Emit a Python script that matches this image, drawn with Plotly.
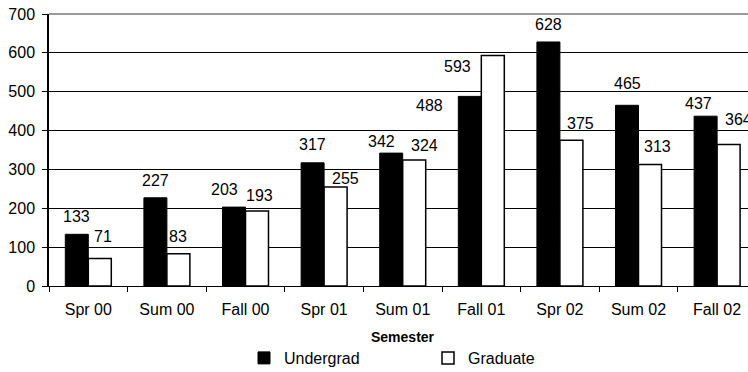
import plotly.graph_objects as go

# Enrollment by semester
semesters = ["Spr 00", "Sum 00", "Fall 00", "Spr 01", "Sum 01",
             "Fall 01", "Spr 02", "Sum 02", "Fall 02"]
undergrad = [133, 227, 203, 317, 342, 488, 628, 465, 437]
graduate = [71, 83, 193, 255, 324, 593, 375, 313, 364]

# Value-label nudges in pixels (horizontal shift, height above bar top)
under_dx = [0, 0, -10, 0, -10, -40, 0, 0, -7]
under_dy = [18, 17, 18, 18, 12, -9, 17, 22, 13]
grad_dx = [3, 0, 2, 10, 10, -35, 9, 7, 10]
grad_dy = [22, 17, 16, 8, 15, -11, 17, 18, 25]

FONT = "Liberation Sans"
SIZE = 16
BARGAP = 0.415
half = (1 - BARGAP) / 4  # offset of each bar centre from the category centre

fig = go.Figure()
fig.add_trace(go.Bar(
    name="Undergrad", x=semesters, y=undergrad,
    marker=dict(color="black", line=dict(color="black", width=1)),
))
fig.add_trace(go.Bar(
    name="Graduate", x=semesters, y=graduate,
    marker=dict(color="white", line=dict(color="black", width=1.5)),
))

annotations = []
for i, (u, g) in enumerate(zip(undergrad, graduate)):
    annotations.append(dict(
        x=i - half, y=u, xref="x", yref="y", text=str(u), showarrow=False,
        xanchor="center", yanchor="middle",
        xshift=under_dx[i], yshift=under_dy[i],
        font=dict(family=FONT, size=SIZE, color="black"),
    ))
    annotations.append(dict(
        x=i + half, y=g, xref="x", yref="y", text=str(g), showarrow=False,
        xanchor="center", yanchor="middle",
        xshift=grad_dx[i], yshift=grad_dy[i],
        font=dict(family=FONT, size=SIZE, color="black"),
    ))

# Axis title
annotations.append(dict(
    x=4, y=-0.1875, xref="x", yref="paper", text="<b>Semester</b>",
    showarrow=False, xanchor="center", yanchor="middle",
    font=dict(family=FONT, size=14, color="black"),
))

fig.update_layout(
    width=748, height=372,
    margin=dict(l=49, r=0, t=14, b=86),
    paper_bgcolor="white", plot_bgcolor="white",
    barmode="group", bargap=BARGAP, bargroupgap=0,
    font=dict(family=FONT, size=SIZE, color="black"),
    showlegend=True,
    legend=dict(
        orientation="h", xref="container", yref="container",
        x=244 / 748, xanchor="left", y=1 - 358 / 372, yanchor="middle",
        entrywidth=139, entrywidthmode="pixels",
        font=dict(family=FONT, size=SIZE, color="black"),
        bgcolor="rgba(0,0,0,0)",
    ),
    annotations=annotations,
    shapes=[dict(type="line", xref="paper", yref="paper",
                 x0=0, x1=1, y0=1, y1=1,
                 line=dict(color="#9a9a9a", width=2), layer="above")],
)

fig.update_xaxes(
    type="category", range=[-0.5, 8.393],
    showline=True, linecolor="black", linewidth=1,
    ticks="outside", tickson="boundaries", ticklen=5, tickcolor="black",
    ticklabelstandoff=9, showgrid=False,
    tickfont=dict(family=FONT, size=SIZE, color="black"),
)
fig.update_yaxes(
    range=[0, 700], dtick=100, tick0=0,
    showline=True, linecolor="black", linewidth=1.5,
    ticks="outside", ticklen=5, tickcolor="black",
    showgrid=True, gridcolor="black", gridwidth=1,
    zeroline=False, ticklabelstandoff=4,
    tickfont=dict(family=FONT, size=SIZE, color="black"),
)

fig.write_html("out.html")
